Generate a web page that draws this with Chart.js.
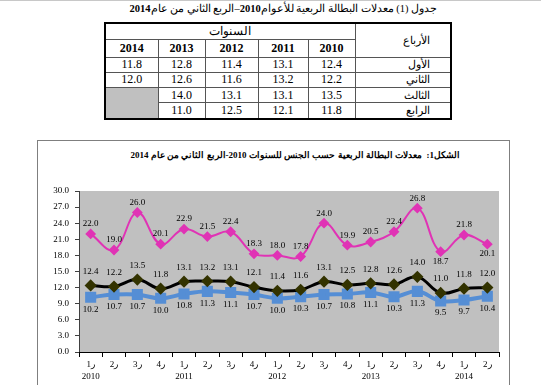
<!DOCTYPE html>
<html lang="ar">
<head>
<meta charset="utf-8">
<script src="https://cdn.jsdelivr.net/npm/chart.js@4.4.1/dist/chart.umd.min.js"></script>
<style>
  body { margin: 0; width: 541px; height: 385px; overflow: hidden; background: #fff;
         font-family: 'Liberation Serif', 'DejaVu Serif', serif; border-top: 1px solid #c8c8c8; box-sizing: border-box; position: relative; }
  #tblTitle { position: absolute; top: 1px; left: 0; width: 437px; text-align: right; font-size: 10.5px; white-space: nowrap; }
  #tbl { position: absolute; top: 21px; left: 104px; border-collapse: collapse; border: 2px solid #000; direction: rtl; }
  #tbl td, #tbl th { border: 1px solid #555; padding: 0; text-align: center; font-size: 12px; height: 14.3px; line-height: 13px; }
  #tbl th { font-weight: normal; }
  #tbl .yr { font-weight: bold; height: 17px; }
  #tbl .q { text-align: right; padding-right: 20px; font-size: 11px; }
  #tbl .gris { background: #c0c0c0; }
  #marco { position: absolute; left: 37px; top: 139px; width: 471px; height: 260px; border: 1px solid #7f7f7f; }
  #chartTitle { position: absolute; top: 9px; left: 0; width: 422px; text-align: right; font-size: 9px; font-weight: bold; direction: rtl; white-space: nowrap; }
  #grafico { position: absolute; left: 0; top: 0; }
</style>
</head>
<body>
<div id="tblTitle" dir="rtl">جدول (1) معدلات البطالة الربعية للأعوام<b>2010</b>–الربع الثاني من عام<b>2014</b></div>
<table id="tbl">
  <colgroup><col style="width:96px"><col style="width:47px"><col style="width:50px"><col style="width:53px"><col style="width:47px"><col style="width:53px"></colgroup>
  <tbody id="tblBody"></tbody>
</table>

<div id="marco">
  <div id="chartTitle">الشكل1:&nbsp; معدلات البطالة الربعية حسب الجنس للسنوات 2010-الربع الثاني من عام 2014</div>
  <canvas id="grafico" width="471" height="260"></canvas>
</div>

<script>
// datos
const trimestres = ['1ر', '2ر', '3ر', '4ر', '1ر', '2ر', '3ر', '4ر', '1ر', '2ر', '3ر', '4ر', '1ر', '2ر', '3ر', '4ر', '1ر', '2ر'];
const anios = ['2010', '', '', '', '2011', '', '', '', '2012', '', '', '', '2013', '', '', '', '2014', ''];
const mujeres = [22.0, 19.0, 26.0, 20.1, 22.9, 21.5, 22.4, 18.3, 18.0, 17.8, 24.0, 19.9, 20.5, 22.4, 26.8, 18.7, 21.8, 20.1];
const total = [12.4, 12.2, 13.5, 11.8, 13.1, 13.2, 13.1, 12.1, 11.4, 11.6, 13.1, 12.5, 12.8, 12.6, 14.0, 11.0, 11.8, 12.0];
const hombres = [10.2, 10.7, 10.7, 10.0, 10.8, 11.3, 11.1, 10.7, 10.0, 10.3, 10.7, 10.8, 11.1, 10.3, 11.3, 9.5, 9.7, 10.4];
const yTicks = [0, 3, 6, 9, 12, 15, 18, 21, 24, 27, 30];

// tabla (1)
const aniosTabla = ['2010', '2011', '2012', '2013', '2014'];
const nombresTrim = ['الأول', 'الثاني', 'الثالث', 'الرابع'];

function armarTabla() {
  const body = document.getElementById('tblBody');
  let html = '<tr style="height:16px"><th rowspan="2" class="q">الأرباع</th><th colspan="5">السنوات</th></tr><tr>';
  aniosTabla.forEach(a => { html += `<th class="yr">${a}</th>`; });
  html += '</tr>';
  nombresTrim.forEach((n, t) => {
    html += `<tr><td class="q">${n}</td>`;
    aniosTabla.forEach((a, k) => {
      const idx = k * 4 + t;
      if (idx < total.length) html += `<td>${total[idx].toFixed(1)}</td>`;
      else if (t === 2) html += '<td rowspan="2" class="gris"></td>';
    });
    html += '</tr>';
  });
  body.innerHTML = html;
}
armarTabla();

const etiquetas = trimestres.map((q, i) => anios[i] ? [q, anios[i]] : q);
const fuente = "'Liberation Serif', 'DejaVu Serif', serif";

// fondo gris del area de trazado
const fondoPlot = {
  id: 'fondoPlot',
  beforeDraw(chart) {
    const { ctx, chartArea: a } = chart;
    ctx.save();
    ctx.fillStyle = '#c0c0c0';
    ctx.fillRect(a.left, a.top, a.right - a.left, a.bottom - a.top);
    ctx.restore();
  }
};

// etiquetas de valores
const abajoMujeres = [15, 17];
const etiquetasValores = {
  id: 'etiquetasValores',
  afterDatasetsDraw(chart) {
    const ctx = chart.ctx;
    ctx.save();
    ctx.font = '9px ' + fuente;
    ctx.fillStyle = '#000';
    ctx.textAlign = 'center';
    ctx.textBaseline = 'middle';
    chart.data.datasets.forEach((ds, d) => {
      chart.getDatasetMeta(d).data.forEach((p, i) => {
        let dy;
        if (d === 0) dy = abajoMujeres.includes(i) ? 10 : -10;
        else if (d === 1) dy = -14;
        else dy = 12;
        ctx.fillText(ds.data[i].toFixed(1), p.x, p.y + dy);
      });
    });
    ctx.restore();
  }
};

new Chart(document.getElementById('grafico'), {
  type: 'line',
  data: {
    labels: etiquetas,
    datasets: [
      { data: mujeres, borderColor: '#e033b5', backgroundColor: '#e033b5', borderWidth: 2,
        pointStyle: 'rectRot', pointRadius: 4, tension: 0.4 },
      { data: total, borderColor: '#000', backgroundColor: '#333300', pointBorderColor: '#333300', borderWidth: 3,
        pointStyle: 'rectRot', pointRadius: 4, tension: 0.4 },
      { data: hombres, borderColor: '#558ed5', backgroundColor: '#558ed5', borderWidth: 4,
        pointStyle: 'rect', pointRadius: 5, tension: 0.4 }
    ]
  },
  options: {
    responsive: false,
    animation: false,
    devicePixelRatio: 1,
    layout: { padding: { top: 50, left: 0, right: 10, bottom: 0 } },
    plugins: { legend: { display: false }, tooltip: { enabled: false } },
    scales: {
      y: {
        min: 0, max: 30,
        afterBuildTicks: s => { s.ticks = yTicks.map(v => ({ value: v })); },
        afterFit: s => { s.width = 41; },
        ticks: { callback: v => v.toFixed(1), color: '#000', font: { family: fuente, size: 9 }, padding: 6 },
        grid: { drawOnChartArea: false, tickLength: 4, color: '#404040' },
        border: { color: '#404040' }
      },
      x: {
        offset: true,
        afterFit: s => { s.height = 49; },
        ticks: { color: '#000', font: { family: fuente, size: 9, lineHeight: 1.3 }, maxRotation: 0, autoSkip: false, padding: 2 },
        grid: { offset: true, drawOnChartArea: false, tickLength: 5, color: '#000' },
        border: { color: '#000' }
      }
    }
  },
  plugins: [fondoPlot, etiquetasValores]
});
</script>
</body>
</html>
